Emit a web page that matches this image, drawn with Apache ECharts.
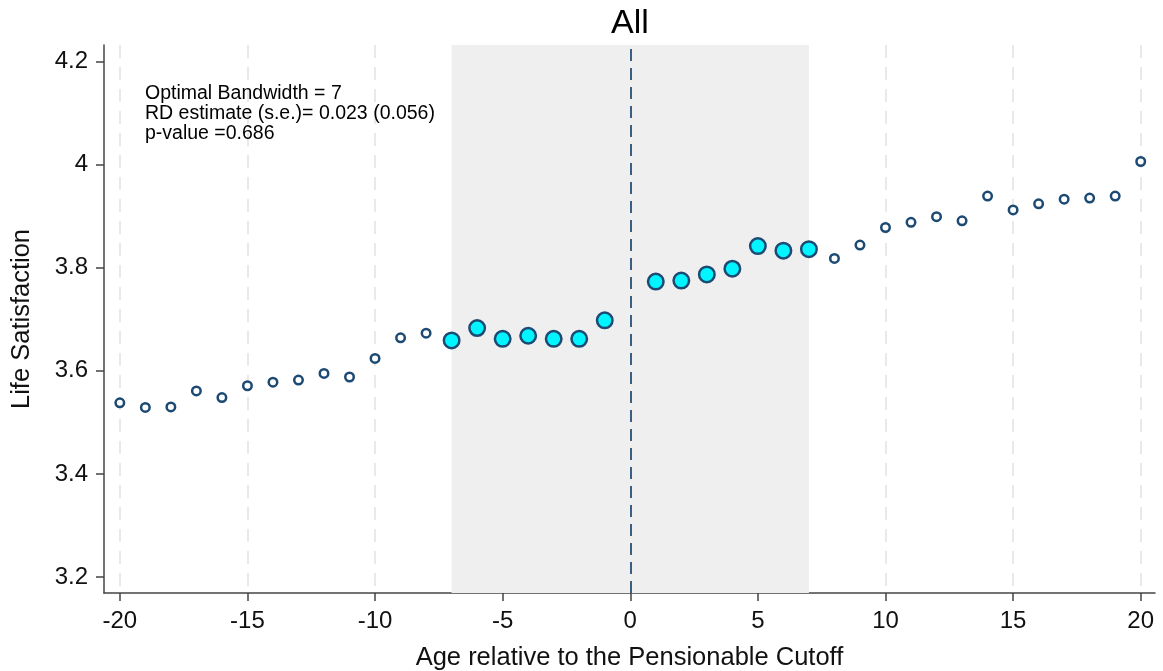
<!DOCTYPE html>
<html>
<head>
<meta charset="utf-8">
<script src="https://cdn.jsdelivr.net/npm/echarts@6/dist/echarts.min.js"></script>
<style>
html,body{margin:0;padding:0;background:#fff;}
#chart{width:1163px;height:671px;}
</style>
</head>
<body>
<div id="chart"></div>
<script>
// ---- data ----
const ages = [-20,-19,-18,-17,-16,-15,-14,-13,-12,-11,-10,-9,-8,-7,-6,-5,-4,-3,-2,-1,
              1,2,3,4,5,6,7,8,9,10,11,12,13,14,15,16,17,18,19,20];
const lifeSatisfaction = [3.538,3.529,3.530,3.561,3.548,3.571,3.578,3.582,3.595,3.588,3.624,3.664,3.673,3.659,3.683,3.662,3.668,3.662,3.662,3.698,
                          3.773,3.775,3.787,3.798,3.842,3.833,3.836,3.818,3.844,3.878,3.888,3.899,3.891,3.939,3.912,3.924,3.933,3.935,3.939,4.006];
const bandwidth = 7;
const xTicks = [-20,-15,-10,-5,0,5,10,15,20];
const yTicks = [3.2,3.4,3.6,3.8,4,4.2];
const annotationLines = ['Optimal Bandwidth = 7','RD estimate (s.e.)= 0.023 (0.056)','p-value =0.686'];
const titleText = 'All';
const xName = 'Age relative to the Pensionable Cutoff';
const yName = 'Life Satisfaction';

const inside = [], outside = [];
ages.forEach((a,i)=>{
  if (Math.abs(a) <= bandwidth) inside.push([a, lifeSatisfaction[i]]);
  else outside.push([a, lifeSatisfaction[i]]);
});

const navy = '#1d4a72';
const font = '"Liberation Sans", Arial, sans-serif';
const chart = echarts.init(document.getElementById('chart'));
chart.setOption({
  animation: false,
  title: { text: titleText, left: 625, textAlign: 'center', top: 2,
           textStyle: { fontSize: 34, fontWeight: 'normal', color: '#000', fontFamily: font } },
  grid: { left: 104, right: 8, top: 45, bottom: 78, containLabel: false, outerBoundsMode: 'none' },
  xAxis: {
    type: 'value', min: -20.62, max: 20.56,
    name: xName, nameLocation: 'middle', nameGap: 52,
    nameTextStyle: { fontSize: 25.5, color: '#111', fontFamily: font },
    axisLine: { show: true, onZero: false, lineStyle: { color: '#444', width: 1.5 } },
    axisTick: { show: true, length: 8, lineStyle: { color: '#444', width: 1.5 }, customValues: xTicks },
    axisLabel: { fontSize: 24, color: '#111', fontFamily: font, margin: 16, customValues: xTicks },
    splitLine: { show: true, lineStyle: { color: '#e9e9e9', width: 2, type: [13, 9] } }
  },
  yAxis: {
    type: 'value', min: 3.169, max: 4.232,
    name: yName, nameLocation: 'middle', nameGap: 69, nameRotate: 90,
    nameTextStyle: { fontSize: 25.5, color: '#111', fontFamily: font },
    axisLine: { show: true, onZero: false, lineStyle: { color: '#444', width: 1.5 } },
    axisTick: { show: true, length: 8, lineStyle: { color: '#444', width: 1.5 }, customValues: yTicks },
    axisLabel: { fontSize: 24, color: '#111', fontFamily: font, margin: 16, customValues: yTicks,
                 formatter: v => String(Math.round(v*10)/10) },
    splitLine: { show: false }
  },
  graphic: annotationLines.map((t,i)=>({
    type: 'text', left: 145, top: 84 + i*20, z: 100,
    style: { text: t, fontSize: 19.5, fill: '#000', fontFamily: font }
  })),
  series: [
    {
      type: 'scatter', name: 'outside', data: outside, symbol: 'circle', symbolSize: 8.5,
      itemStyle: { color: '#fff', borderColor: navy, borderWidth: 2.5, opacity: 1 },
      z: 5,
      markArea: {
        silent: true,
        itemStyle: { color: '#efefef' },
        data: [[{ xAxis: -bandwidth }, { xAxis: bandwidth }]]
      },
      markLine: {
        silent: true, symbol: 'none', label: { show: false },
        lineStyle: { color: '#3b5f82', width: 2, type: [12, 7] },
        data: [{ xAxis: 0 }]
      }
    },
    {
      type: 'scatter', name: 'inside', data: inside, symbol: 'circle', symbolSize: 15.5,
      itemStyle: { color: '#00f5ff', borderColor: navy, borderWidth: 2.5, opacity: 1 },
      z: 6
    }
  ]
});
</script>
</body>
</html>
